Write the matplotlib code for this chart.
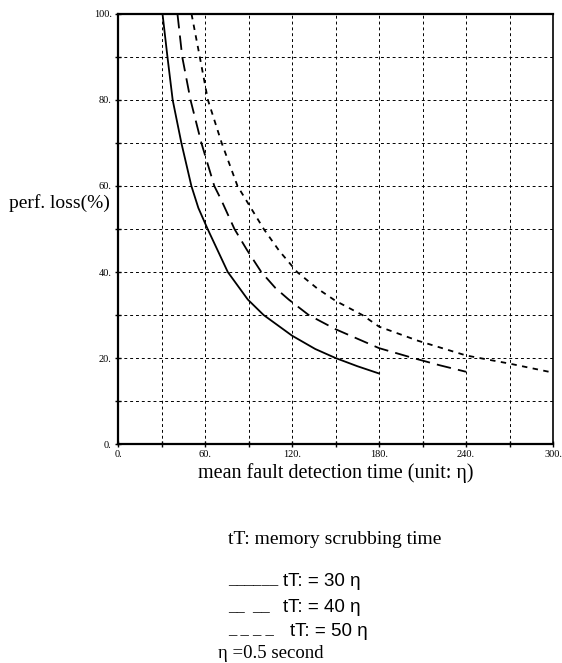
import matplotlib

matplotlib.use("Agg")
import matplotlib.pyplot as plt

# values
x_30 = [30.7, 34.1, 37.7, 43.7, 50.6, 55.4, 61.8, 75.7, 89.5, 100.4, 120, 136, 150, 165, 180]
y_30 = [100, 90, 80, 70, 60, 54.9, 50, 40, 33.6, 30, 25.2, 22.1, 20, 18.1, 16.4]

x_40 = [41, 44.3, 50, 57.5, 66.4, 71, 80.3, 88.8, 98.8, 108.5, 117.7, 131.5, 150, 180, 203.5, 222, 240]
y_40 = [100, 90, 80, 70, 60, 56.9, 50, 45.2, 40, 36.3, 33.6, 30, 26.7, 22.3, 20, 18.3, 16.8]

x_50 = [50.7, 56.4, 62, 71.5, 82.4, 100.5, 111, 123.5, 137.3, 150, 168.5, 180, 207, 240, 254, 270, 300]
y_50 = [100, 90, 80, 70, 60, 50, 45, 40, 36.2, 33.3, 30, 27.3, 24, 20.6, 19.7, 18.7, 16.6]

x_ticks = [0, 30, 60, 90, 120, 150, 180, 210, 240, 270, 300]
x_labels = ["0.", "", "60.", "", "120.", "", "180.", "", "240.", "", "300."]
y_ticks = [0, 10, 20, 30, 40, 50, 60, 70, 80, 90, 100]
y_labels = ["0.", "", "20.", "", "40.", "", "60.", "", "80.", "", "100."]

legend_lines = ["______", "__  __", "_ _ _ _"]
legend_texts = ["tT: = 30 η", "tT: = 40 η", "tT: = 50 η"]

plt.rcParams["font.family"] = ["Liberation Serif", "DejaVu Serif"]

fig = plt.figure(figsize=(5.62, 6.63), dpi=100)
ax = fig.add_axes([0.21, 0.3303, 0.774, 0.6486])

ax.plot(x_30, y_30, color="black", lw=1.3, linestyle="-")
ax.plot(x_40, y_40, color="black", lw=1.3, linestyle=(0, (8, 4)))
ax.plot(x_50, y_50, color="black", lw=1.3, linestyle=(0, (3, 3)))

ax.set_xlim(0, 300)
ax.set_ylim(0, 100)
ax.set_xticks(x_ticks)
ax.set_xticklabels(x_labels, fontsize=7.5)
ax.set_yticks(y_ticks)
ax.set_yticklabels(y_labels, fontsize=7.5)
ax.tick_params(direction="inout", length=5, width=1, pad=2)
ax.grid(True, color="black", linestyle=(0, (3, 3)), linewidth=0.7)

for side in ["left", "bottom", "top"]:
    ax.spines[side].set_linewidth(1.6)
ax.spines["right"].set_linewidth(1.2)

ax.set_xlabel("mean fault detection time (unit: η)", fontsize=14.5, labelpad=3)
fig.text(0.016, 1 - 203 / 663, "perf. loss(%)", fontsize=14,
         ha="left", va="center")

# legend block written as text, as in the original
fig.text(228 / 562, 1 - 540 / 663, "tT: memory scrubbing time", fontsize=14,
         ha="left", va="center")
rows = [582, 608, 631]
starts = [283, 283, 290]
for line, label, row, start in zip(legend_lines, legend_texts, rows, starts):
    fig.text(228 / 562, 1 - (row - 2) / 663, line, fontsize=12,
             ha="left", va="center")
    fig.text(start / 562, 1 - row / 663, label, fontsize=13.5,
             ha="left", va="center", family=["Liberation Sans", "DejaVu Sans"])
fig.text(218 / 562, 1 - 653 / 663, "η =0.5 second", fontsize=13.5,
         ha="left", va="center")

fig.savefig("out.png", dpi=100)
